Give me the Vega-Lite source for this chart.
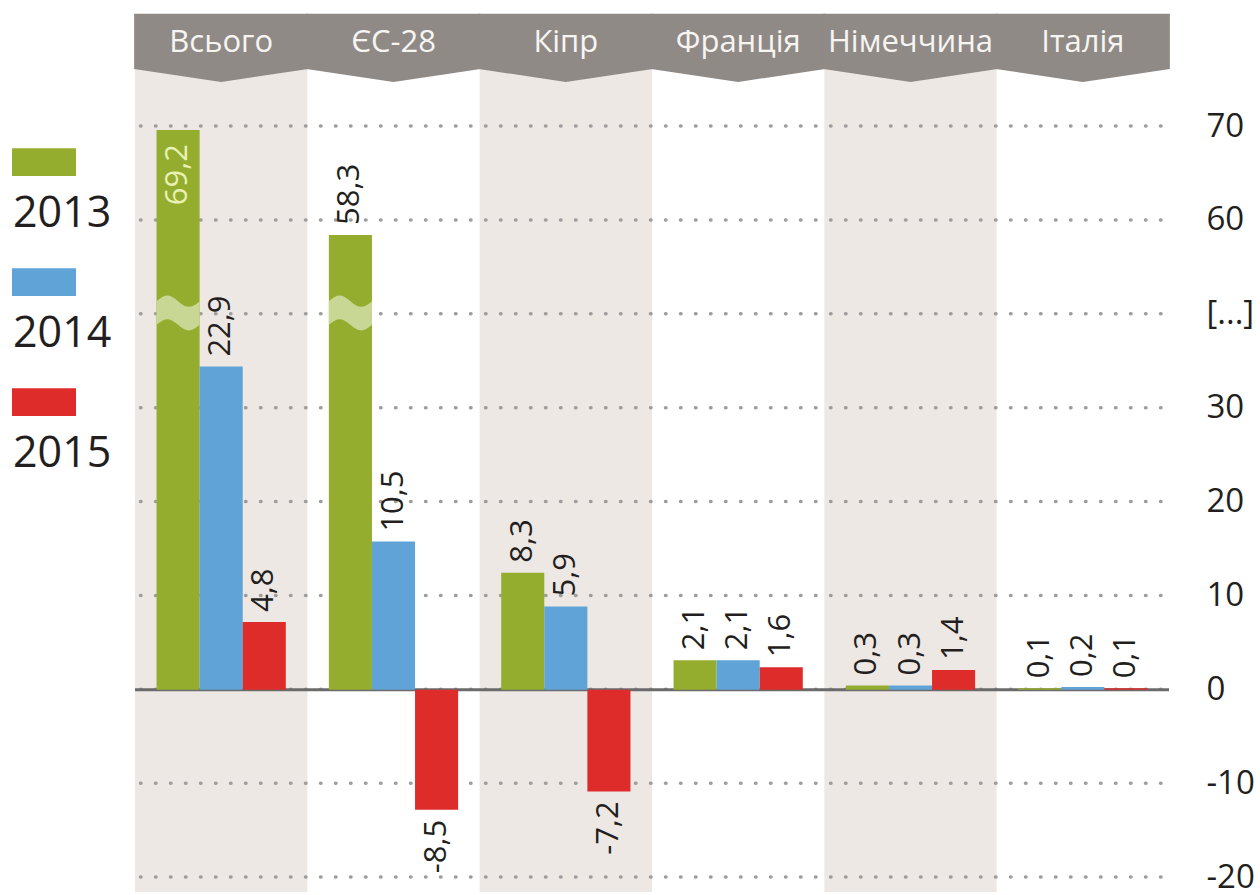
{
  "$schema": "https://vega.github.io/schema/vega-lite/v6.json",
  "width": 1034,
  "height": 878,
  "autosize": {"type": "none"},
  "padding": {"left": 135, "top": 14, "right": 91, "bottom": 3},
  "background": "#ffffff",
  "config": {
    "view": {"stroke": null},
    "font": "Open Sans",
    "locale": {"number": {"decimal": ",", "thousands": " ", "grouping": [3], "currency": ["", ""], "minus": "-"}}
  },
  "datasets": {
    "investment": [
      {"country": "Всього", "year": "2013", "value": 69.2},
      {"country": "Всього", "year": "2014", "value": 22.9},
      {"country": "Всього", "year": "2015", "value": 4.8},
      {"country": "ЄС-28", "year": "2013", "value": 58.3},
      {"country": "ЄС-28", "year": "2014", "value": 10.5},
      {"country": "ЄС-28", "year": "2015", "value": -8.5},
      {"country": "Кіпр", "year": "2013", "value": 8.3},
      {"country": "Кіпр", "year": "2014", "value": 5.9},
      {"country": "Кіпр", "year": "2015", "value": -7.2},
      {"country": "Франція", "year": "2013", "value": 2.1},
      {"country": "Франція", "year": "2014", "value": 2.1},
      {"country": "Франція", "year": "2015", "value": 1.6},
      {"country": "Німеччина", "year": "2013", "value": 0.3},
      {"country": "Німеччина", "year": "2014", "value": 0.3},
      {"country": "Німеччина", "year": "2015", "value": 1.4},
      {"country": "Італія", "year": "2013", "value": 0.1},
      {"country": "Італія", "year": "2014", "value": 0.2},
      {"country": "Італія", "year": "2015", "value": 0.1}
    ],
    "ticks": [
      {"tick": "70"}, {"tick": "60"}, {"tick": "[...]"}, {"tick": "30"}, {"tick": "20"},
      {"tick": "10"}, {"tick": "0"}, {"tick": "-10"}, {"tick": "-20"}
    ]
  },
  "data": {"name": "investment"},
  "layer": [
    {
      "transform": [
        {"filter": {"field": "year", "equal": "2013"}},
        {"filter": {"field": "country", "oneOf": ["Всього", "Кіпр", "Німеччина"]}}
      ],
      "mark": {"type": "rect", "color": "#eee8e5"},
      "encoding": {
        "x": {
          "field": "country", "type": "nominal",
          "scale": {"domain": ["Всього", "ЄС-28", "Кіпр", "Франція", "Німеччина", "Італія"], "paddingInner": 0, "paddingOuter": 0},
          "axis": null
        }
      }
    },
    {
      "data": {"name": "ticks"},
      "mark": {"type": "rule", "color": "#9d9d9d", "strokeWidth": 3.5, "strokeDash": [0.5, 14.5], "strokeCap": "round", "strokeDashOffset": 7},
      "encoding": {
        "y": {
          "field": "tick", "type": "ordinal",
          "scale": {"type": "point", "domain": ["70", "60", "[...]", "30", "20", "10", "0", "-10", "-20"], "range": [112, 863], "padding": 0},
          "axis": {"orient": "right", "title": null, "domain": false, "ticks": false, "grid": false, "labelPadding": 37, "labelAlign": "left", "labelBaseline": "middle", "labelFontSize": 33, "labelColor": "#231f20"}
        }
      }
    },
    {
      "layer": [
        {
          "data": {"values": [{}]},
          "mark": {"type": "rule", "color": "#6b6b6b", "strokeWidth": 3},
          "encoding": {"y": {"datum": 0, "type": "quantitative", "axis": null}}
        },
        {
          "mark": {"type": "bar", "opacity": 1},
          "encoding": {
            "x": {"field": "country", "type": "nominal", "scale": {"domain": ["Всього", "ЄС-28", "Кіпр", "Франція", "Німеччина", "Італія"], "paddingInner": 0, "paddingOuter": 0}, "axis": null},
            "xOffset": {"field": "year", "type": "nominal", "scale": {"domain": ["2013", "2014", "2015"], "paddingInner": 0, "paddingOuter": 0.5}},
            "y": {
              "field": "value", "type": "quantitative",
              "scale": {"domain": [-14.33, 26.7, 50.2, 81.25], "range": [878, 299, 299, 0], "nice": false, "zero": false},
              "axis": null
            },
            "y2": {"datum": 0},
            "color": {
              "field": "year", "type": "nominal",
              "scale": {"domain": ["2013", "2014", "2015"], "range": ["#94ad2e", "#5fa3d7", "#dd2c2a"]},
              "legend": {"orient": "none", "legendX": -123, "legendY": 147, "title": null, "symbolType": "M-1,-1.4H1V-0.53H-1Z", "symbolSize": 4096, "symbolStrokeWidth": 0, "symbolOpacity": 1, "labelFontSize": 43, "labelBaseline": "top", "labelOffset": -63, "labelColor": "#231f20", "rowPadding": 32}
            }
          }
        },
        {
          "transform": [{"filter": "datum.value > 50"}],
          "mark": {"type": "point", "shape": "M-1,-0.55C-0.6,-0.9 -0.4,-0.9 0,-0.55S0.6,-0.2 1,-0.55L1,0.55C0.6,0.9 0.4,0.9 0,0.55S-0.6,0.2 -1,0.55Z", "size": 1856, "filled": true, "opacity": 1, "color": "#c9d795", "strokeWidth": 0},
          "encoding": {
            "x": {"field": "country", "type": "nominal", "axis": null},
            "xOffset": {"field": "year", "type": "nominal"},
            "y": {"datum": 40, "type": "quantitative", "axis": null}
          }
        },
        {
          "transform": [{"filter": "datum.value >= 0 && datum.value < 65"}],
          "mark": {"type": "text", "angle": 270, "align": "left", "baseline": "middle", "dx": 10, "fontSize": 31, "color": "#231f20"},
          "encoding": {
            "x": {"field": "country", "type": "nominal", "axis": null},
            "xOffset": {"field": "year", "type": "nominal"},
            "y": {"field": "value", "type": "quantitative", "axis": null},
            "text": {"field": "value", "type": "quantitative", "format": ".1f"}
          }
        },
        {
          "transform": [{"filter": "datum.value < 0"}],
          "mark": {"type": "text", "angle": 270, "align": "right", "baseline": "middle", "dx": -10, "fontSize": 31, "color": "#231f20"},
          "encoding": {
            "x": {"field": "country", "type": "nominal", "axis": null},
            "xOffset": {"field": "year", "type": "nominal"},
            "y": {"field": "value", "type": "quantitative", "axis": null},
            "text": {"field": "value", "type": "quantitative", "format": ".1f"}
          }
        },
        {
          "transform": [{"filter": "datum.value >= 65"}],
          "mark": {"type": "text", "angle": 270, "align": "right", "baseline": "middle", "dx": -14, "fontSize": 31, "color": "#e9f1b5"},
          "encoding": {
            "x": {"field": "country", "type": "nominal", "axis": null},
            "xOffset": {"field": "year", "type": "nominal"},
            "y": {"field": "value", "type": "quantitative", "axis": null},
            "text": {"field": "value", "type": "quantitative", "format": ".1f"}
          }
        },
        {
          "transform": [{"filter": {"field": "year", "equal": "2013"}}],
          "mark": {"type": "point", "shape": "M-1.01,-0.32L1.01,-0.32L1.01,0.32L0,0.47L-1.01,0.32Z", "size": 29698, "filled": true, "opacity": 1, "color": "#8f8a86", "strokeWidth": 0},
          "encoding": {
            "x": {"field": "country", "type": "nominal", "axis": null},
            "y": {"datum": 78.4, "type": "quantitative", "axis": null}
          }
        },
        {
          "transform": [{"filter": {"field": "year", "equal": "2013"}}],
          "mark": {"type": "text", "align": "center", "baseline": "middle", "dy": 2, "fontSize": 31, "color": "#f7f5f2"},
          "encoding": {
            "x": {"field": "country", "type": "nominal", "axis": null},
            "y": {"datum": 78.4, "type": "quantitative", "axis": null},
            "text": {"field": "country", "type": "nominal"}
          }
        }
      ]
    }
  ],
  "resolve": {"scale": {"y": "independent"}, "axis": {"y": "independent"}}
}
